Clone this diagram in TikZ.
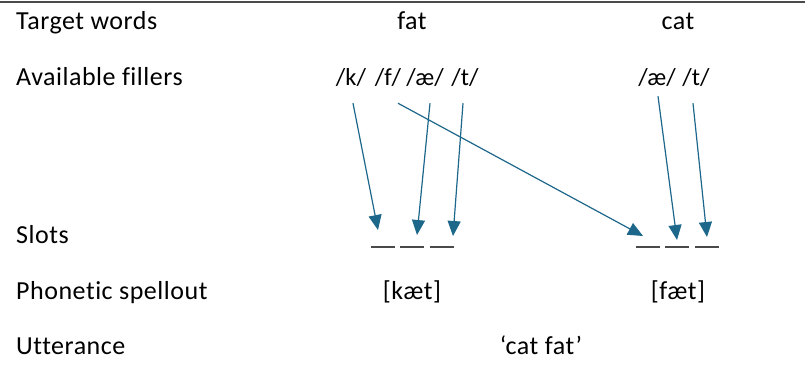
\documentclass[tikz,border=0pt]{standalone}
\usepackage{fontspec}
\setmainfont{Carlito}[Ligatures=NoCommon, LetterSpace=2]
\newfontfamily\fillerfont{Carlito}
\usetikzlibrary{arrows.meta}
\definecolor{linkblue}{HTML}{1D678A}
\definecolor{slotgray}{HTML}{4A4A4A}
\begin{document}
\begin{tikzpicture}[x=1pt, y=-1pt,
    txt/.style={font=\fontsize{26}{31}\selectfont, inner sep=0pt, anchor=base},
    rowlbl/.style={txt, anchor=base west},
    filler/.style={txt, font=\fillerfont\fontsize{24.5}{30}\selectfont},
    slot/.style={minimum width=24pt, minimum height=0pt, inner sep=0pt},
    slotline/.style={slotgray, line width=1.5pt},
    link/.style={linkblue, line width=1.2pt, -{Triangle[width=13pt,length=15pt]}},
  ]
  \useasboundingbox (0,0) rectangle (805,383);
  \draw[slotgray, line width=1.8pt] (0,2) -- (805,2);
  % row labels
  \node[rowlbl] (rtarget) at (16,29)  {Target words};
  \node[rowlbl] (rfill)   at (16,85)  {Available fillers};
  \node[rowlbl] (rslots)  at (16,243) {Slots};
  \node[rowlbl] (rphon)   at (16,299) {Phonetic spellout};
  \node[rowlbl] (rutt)    at (16,354) {Utterance};
  % words
  \node[txt] (wfat) at (412,29) {fat};
  \node[txt] (wcat) at (678,29) {cat};
  % fillers
  \node[filler] (fk) at (351,85) {/k/};
  \node[filler] (ff) at (388,85) {/f/};
  \node[filler] (fa) at (425,85) {/æ/};
  \node[filler] (ft) at (465,85) {/t/};
  \node[filler] (ra) at (657,85) {/æ/};
  \node[filler] (rt) at (696,85) {/t/};
  % slots
  \foreach \n/\x in {l1/383,l2/412,l3/442,r1/648,r2/677,r3/707} {
    \node[slot] (s\n) at (\x,247) {};
    \draw[slotline] (s\n.west) -- (s\n.east);
  }
  % links
  \draw[link] ([xshift=2pt,yshift=-17pt]fk.south) -- ([xshift=-5pt,yshift=17pt]sl1.center);
  \draw[link] ([xshift=10pt,yshift=-17pt]ff.south) -- ([xshift=-5pt,yshift=11pt]sr1.center);
  \draw[link] ([xshift=5pt,yshift=-17pt]fa.south) -- ([xshift=5pt,yshift=12pt]sl2.center);
  \draw[link] ([xshift=-2pt,yshift=-17pt]ft.south) -- ([xshift=11pt,yshift=11pt]sl3.center);
  \draw[link] ([xshift=1pt,yshift=-10pt]ra.south) -- ([yshift=7pt]sr2.center);
  \draw[link] ([xshift=-3pt,yshift=-17pt]rt.south) -- ([yshift=10pt]sr3.center);
  % spellout and utterance
  \node[txt] (pkat) at (412,299) {[kæt]};
  \node[txt] (pfat) at (678,299) {[fæt]};
  \node[txt] (utt)  at (541,354) {‘cat fat’};
\end{tikzpicture}
\end{document}
